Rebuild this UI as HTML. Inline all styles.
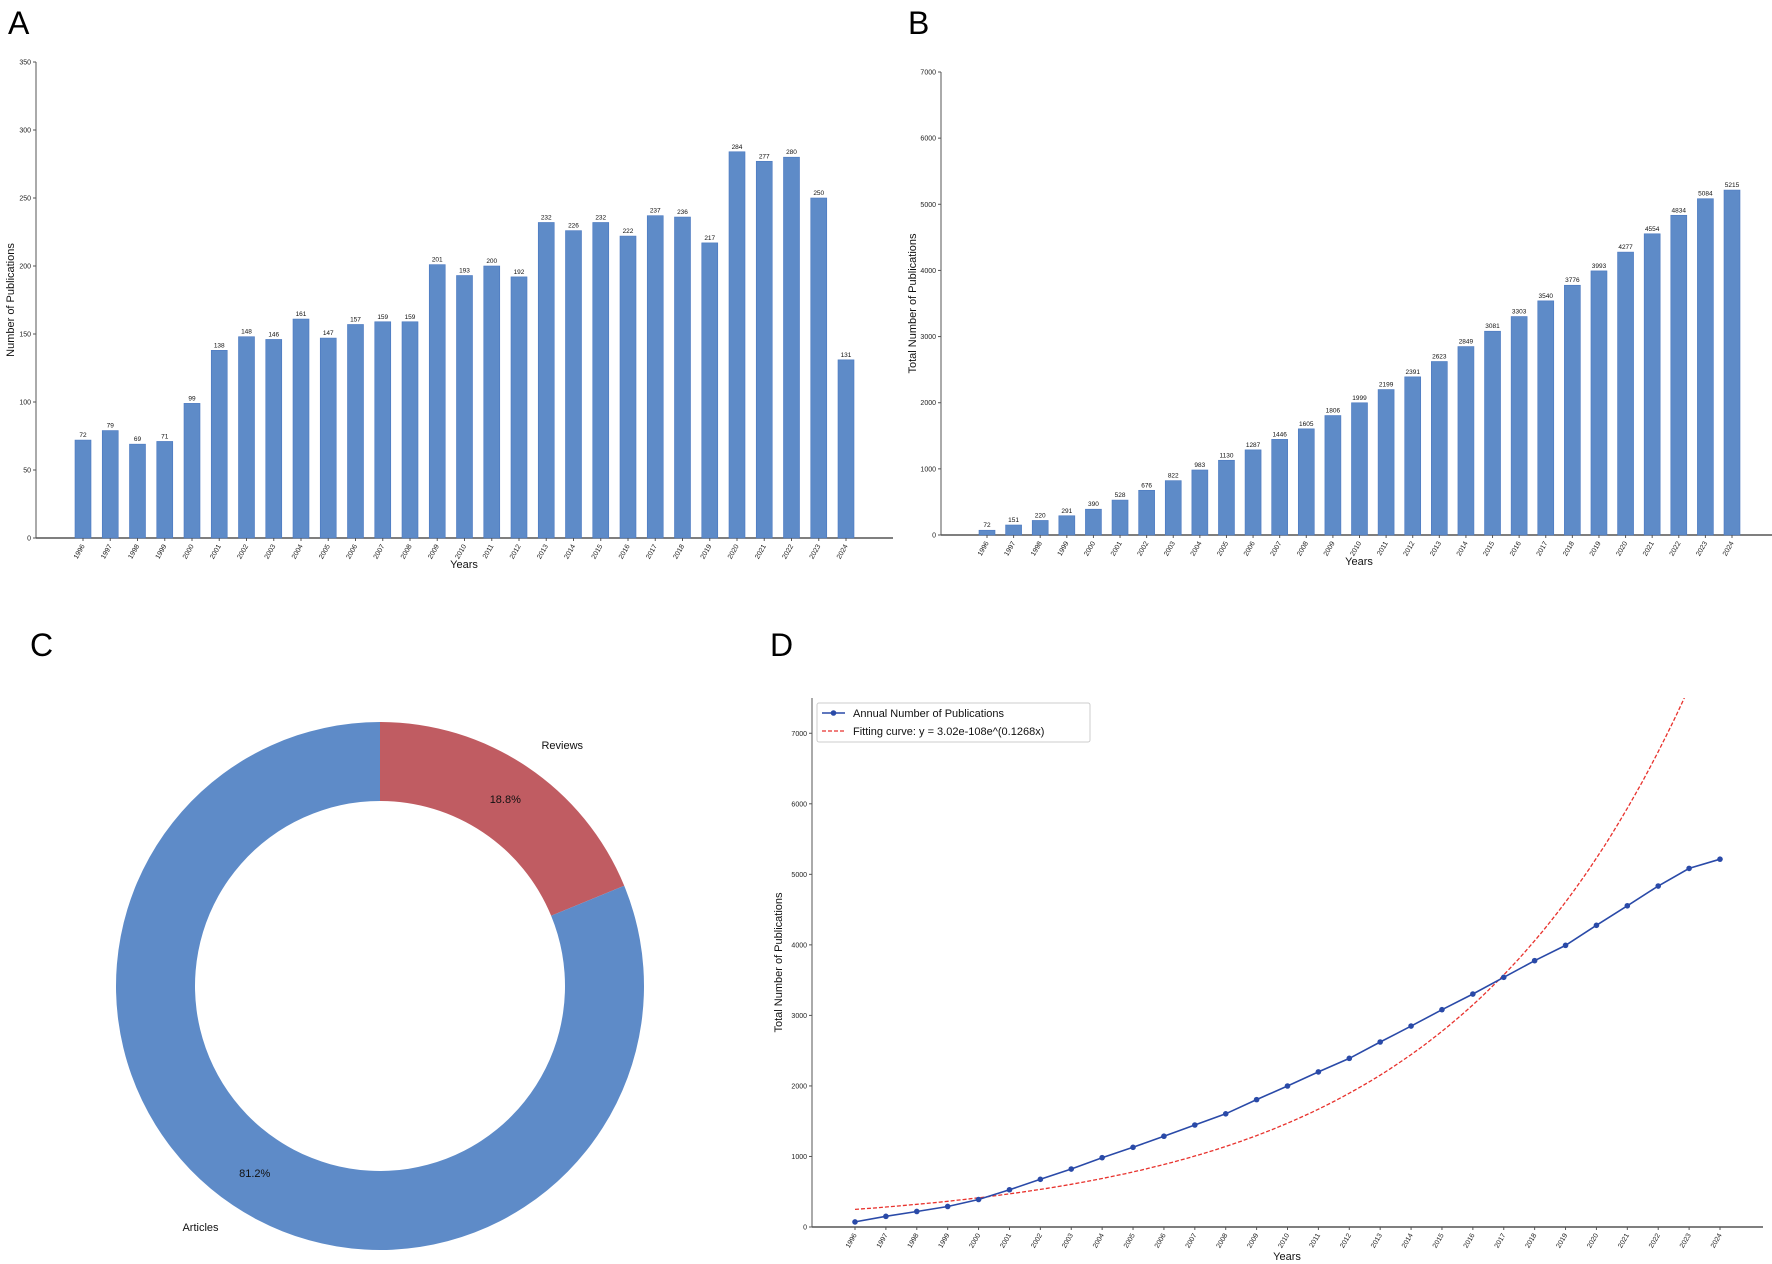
<!DOCTYPE html>
<html><head><meta charset="utf-8"><style>
html,body{margin:0;padding:0;background:#fff;}
svg{display:block;font-family:"Liberation Sans","DejaVu Sans",sans-serif;}
</style></head><body>
<svg id="fig" width="1772" height="1264" viewBox="0 0 1772 1264" xmlns="http://www.w3.org/2000/svg">
<rect width="1772" height="1264" fill="#fff"/>
<text x="8" y="34" font-size="32">A</text>
<text x="908" y="34" font-size="32">B</text>
<text x="30" y="656" font-size="32">C</text>
<text x="770" y="656" font-size="32">D</text>
<g id="pa"></g>
<g id="pb"></g>
<g id="pc"></g>
<g id="pd"></g>
</svg>
<script>
const years = [1996,1997,1998,1999,2000,2001,2002,2003,2004,2005,2006,2007,2008,2009,2010,2011,2012,2013,2014,2015,2016,2017,2018,2019,2020,2021,2022,2023,2024];
const annualCounts = [72,79,69,71,99,138,148,146,161,147,157,159,159,201,193,200,192,232,226,232,222,237,236,217,284,277,280,250,131];
const cumulativeCounts = [72,151,220,291,390,528,676,822,983,1130,1287,1446,1605,1806,1999,2199,2391,2623,2849,3081,3303,3540,3776,3993,4277,4554,4834,5084,5215];
const annualTicks = [0,50,100,150,200,250,300,350];
const cumulativeTicks = [0,1000,2000,3000,4000,5000,6000,7000];
const lineTicks = [0,1000,2000,3000,4000,5000,6000,7000];
const pieLabels = ["Reviews","Articles"];
const pieShares = [18.8,81.2];
const fitA = [3.02e-108];
const fitB = [0.1268];

const NS="http://www.w3.org/2000/svg";
function mk(parent,tag,attrs,text){const e=document.createElementNS(NS,tag);for(const k in attrs)e.setAttribute(k,attrs[k]);if(text!==undefined)e.textContent=text;parent.appendChild(e);return e;}
const BLUE="#5e8bc8";

function barChart(g,vals,ticks,cfg){
  const yS=v=>cfg.y0-(v-0)/(cfg.ymax)*(cfg.y0-cfg.ytop);
  const xS=i=>cfg.xFirst+i*(cfg.xLast-cfg.xFirst)/(years.length-1);
  const ax=mk(g,'line',{x1:cfg.xAxis,y1:cfg.ytop,x2:cfg.xAxis,y2:cfg.y0,stroke:'#555','stroke-width':1});
  
  const bx=mk(g,'line',{x1:cfg.xAxis,y1:cfg.y0,x2:cfg.xEnd,y2:cfg.y0,stroke:'#555','stroke-width':1.5});
  
  ticks.forEach(t=>{const y=yS(t);
    mk(g,'line',{x1:cfg.xAxis-3,y1:y,x2:cfg.xAxis,y2:y,stroke:'#555'});
    const tl=mk(g,'text',{x:cfg.xAxis-5,y:y+2.5,'font-size':7,'text-anchor':'end',fill:'#222'},t);
    });
  const bw=cfg.bw;
  vals.forEach((v,i)=>{const x=xS(i),y=yS(v);
    const r=mk(g,'rect',{x:x-bw/2,y:y,width:bw,height:cfg.y0-y,fill:BLUE,stroke:'#4a78c0','stroke-width':0.6});
    
    const vl=mk(g,'text',{x:x,y:y-3,'font-size':6.5,'text-anchor':'middle',fill:'#111'},v);
    
    mk(g,'line',{x1:x,y1:cfg.y0,x2:x,y2:cfg.y0+3,stroke:'#555'});
    const xl=mk(g,'text',{x:x+2,y:cfg.y0+8,'font-size':7,'text-anchor':'end',fill:'#222',transform:`rotate(-60 ${x+2} ${cfg.y0+8})`},years[i]);
    });
  const xt=mk(g,'text',{x:cfg.xTitle,y:cfg.y0+30,'font-size':11,'text-anchor':'middle',fill:'#111'},'Years');
  
  const yc=(cfg.ytop+cfg.y0)/2;
  const yt=mk(g,'text',{x:cfg.yTitleX,y:yc,'font-size':11,'text-anchor':'middle',fill:'#111',transform:`rotate(-90 ${cfg.yTitleX} ${yc})`},cfg.yTitle);
  
}
barChart(document.getElementById('pa'),annualCounts,annualTicks,{xAxis:36,xEnd:893,ytop:62,y0:538,ymax:350,xFirst:83,xLast:846,bw:16,xTitle:464,yTitleX:14,yTitle:'Number of Publications'});
barChart(document.getElementById('pb'),cumulativeCounts,cumulativeTicks,{xAxis:941,xEnd:1772,ytop:72,y0:535,ymax:7000,xFirst:987,xLast:1732,bw:16,xTitle:1359,yTitleX:916,yTitle:'Total Number of Publications'});

// Donut
(function(){
  const g=document.getElementById('pc');const cx=380,cy=986,R=264,r=185;
  const cols=["#c05c62",BLUE];
  const total=pieShares.reduce((a,b)=>a+b,0);
  let a0=-Math.PI/2;
  pieShares.forEach((s,i)=>{const a1=a0+s/total*2*Math.PI;
    const large=(a1-a0)>Math.PI?1:0;
    const p=(rad,a)=>[cx+rad*Math.cos(a),cy+rad*Math.sin(a)];
    const [x0,y0]=p(R,a0),[x1,y1]=p(R,a1),[x2,y2]=p(r,a1),[x3,y3]=p(r,a0);
    const w=mk(g,'path',{d:`M${x0},${y0}A${R},${R} 0 ${large} 1 ${x1},${y1}L${x2},${y2}A${r},${r} 0 ${large} 0 ${x3},${y3}Z`,fill:cols[i]});
    
    const am=(a0+a1)/2;
    const pl=mk(g,'text',{x:cx+225*Math.cos(am),y:cy+225*Math.sin(am)+4,'font-size':11,'text-anchor':'middle',fill:'#111'},s.toFixed(1)+'%');
    
    const lx=cx+290*Math.cos(am);
    const ll=mk(g,'text',{x:lx,y:cy+290*Math.sin(am)+4,'font-size':11,'text-anchor':(lx>=cx?'start':'end'),fill:'#111'},pieLabels[i]);
    
    a0=a1;});
})();

// Line chart
(function(){
  const g=document.getElementById('pd');
  const xAxis=812,xEnd=1763,ytop=698,y0=1227,ymax=7500,xFirst=855,xLast=1720;
  const yS=v=>y0-v/ymax*(y0-ytop);
  const xY=yr=>xFirst+(yr-years[0])*(xLast-xFirst)/(years[years.length-1]-years[0]);
  const ay=mk(g,'line',{x1:xAxis,y1:ytop,x2:xAxis,y2:y0,stroke:'#555'});
  
  const axx=mk(g,'line',{x1:xAxis,y1:y0,x2:xEnd,y2:y0,stroke:'#555','stroke-width':1.5});
  
  lineTicks.forEach(t=>{const y=yS(t);mk(g,'line',{x1:xAxis-3,y1:y,x2:xAxis,y2:y,stroke:'#555'});
    const tl=mk(g,'text',{x:xAxis-5,y:y+2.5,'font-size':7,'text-anchor':'end',fill:'#222'},t);
    });
  years.forEach(yr=>{const x=xY(yr);mk(g,'line',{x1:x,y1:y0,x2:x,y2:y0+3,stroke:'#555'});
    const xl=mk(g,'text',{x:x+2,y:y0+8,'font-size':7,'text-anchor':'end',fill:'#222',transform:`rotate(-60 ${x+2} ${y0+8})`},yr);
    });
  const cp=document.createElementNS(NS,'clipPath');cp.setAttribute('id','dclip');g.appendChild(cp);
  mk(cp,'rect',{x:xAxis,y:ytop,width:xEnd-xAxis,height:y0-ytop});
  let d='';
  for(let yr=years[0];yr<=years[years.length-1];yr+=0.25){const v=fitA[0]*Math.exp(fitB[0]*yr);d+=(d?'L':'M')+xY(yr).toFixed(1)+','+yS(v).toFixed(1);}
  const fc=mk(g,'path',{d:d,fill:'none',stroke:'#e8322d','stroke-width':1.3,'stroke-dasharray':'4,2','clip-path':'url(#dclip)'});
  
  const pts=cumulativeCounts.map((v,i)=>xY(years[i]).toFixed(1)+','+yS(v).toFixed(1)).join(' ');
  const ln=mk(g,'polyline',{points:pts,fill:'none',stroke:'#2a4aa8','stroke-width':1.6});
  
  cumulativeCounts.forEach((v,i)=>{const c=mk(g,'circle',{cx:xY(years[i]),cy:yS(v),r:2.8,fill:'#2a4aa8'});
    });
  const lg=mk(g,'g',{});
  mk(lg,'rect',{x:817,y:703,width:273,height:39,fill:'#fff',stroke:'#ccc',rx:2});
  mk(lg,'line',{x1:822,y1:713,x2:845,y2:713,stroke:'#2a4aa8','stroke-width':1.6});
  mk(lg,'circle',{cx:833.5,cy:713,r:2.8,fill:'#2a4aa8'});
  const l1=mk(lg,'text',{x:853,y:717,'font-size':11,fill:'#111'},'Annual Number of Publications');
  
  mk(lg,'line',{x1:822,y1:731,x2:845,y2:731,stroke:'#e8322d','stroke-width':1.3,'stroke-dasharray':'4,2'});
  const l2=mk(lg,'text',{x:853,y:735,'font-size':11,fill:'#111'},'Fitting curve: y = 3.02e-108e^(0.1268x)');
  
  const xt=mk(g,'text',{x:1287,y:1260,'font-size':11,'text-anchor':'middle',fill:'#111'},'Years');
  
  const yc=(ytop+y0)/2;
  const yt=mk(g,'text',{x:782,y:yc,'font-size':11,'text-anchor':'middle',fill:'#111',transform:`rotate(-90 782 ${yc})`},'Total Number of Publications');
  
})();
</script>
</body></html>
